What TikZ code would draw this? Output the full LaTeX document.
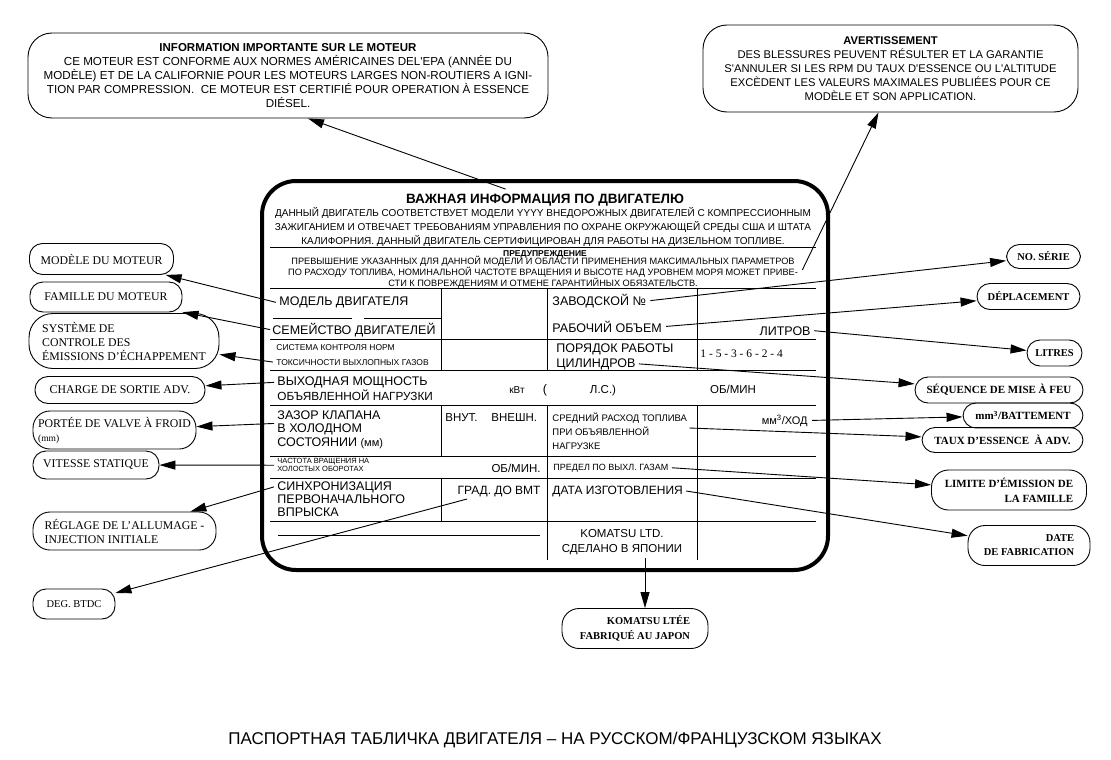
\documentclass[tikz,border=0pt]{standalone}
\usepackage{fontspec}
\setmainfont{Liberation Serif}
\newfontfamily\platefont{Liberation Sans}
\usetikzlibrary{arrows.meta}
\newcommand\fsz[2]{\fontsize{#1}{#2}\selectfont}
\tikzset{tag/.style={draw, rounded corners=13pt, inner sep=0pt, font=\fsz{11.8}{14}},
         rtag/.style={tag, font=\bfseries\fsz{11}{12}},
         note/.style={draw, rounded corners=24pt, inner sep=0pt, align=center, font=\platefont\fsz{11.6}{14}},
         cell/.style={inner sep=0pt, anchor=base west, font=\platefont\fsz{12.5}{13.5}},
         tiny/.style={inner sep=0pt, anchor=base west, font=\platefont\fsz{8.5}{14}},
         ptr/.style={-{Triangle[length=16pt,width=9pt]}},
         rule/.style={line width=1pt}}

\begin{document}
\begin{tikzpicture}[x=1pt,y=-1pt,line width=0.9pt]
  \fill[white] (0,0) rectangle (1111,760);
  \useasboundingbox (0,0) rectangle (1111,760);

  \node[note, minimum width=520pt, minimum height=85pt] (info) at (288,75.5)
    {{\bfseries\fsz{11.5}{14}INFORMATION IMPORTANTE SUR LE MOTEUR}\\
     CE MOTEUR EST CONFORME AUX NORMES AMÉRICAINES DEL'EPA (ANNÉE DU\\
     MODÈLE) ET DE LA CALIFORNIE POUR LES MOTEURS LARGES NON-ROUTIERS A IGNI-\\
     TION PAR COMPRESSION.~ CE MOTEUR EST CERTIFIÉ POUR OPERATION À ESSENCE\\
     DIÉSEL.};
  \node[note, minimum width=375pt, minimum height=87pt, font=\platefont\fsz{11.2}{14}] (warn) at (890.5,68.5)
    {{\bfseries\fsz{11.2}{14}AVERTISSEMENT}\\
     DES BLESSURES PEUVENT RÉSULTER ET LA GARANTIE\\
     S'ANNULER SI LES RPM DU TAUX D'ESSENCE OU L'ALTITUDE\\
     EXCÈDENT LES VALEURS MAXIMALES PUBLIÉES POUR CE\\
     MODÈLE ET SON APPLICATION.};

  % plate
  \draw[line width=4pt, rounded corners=34pt] (262,181) rectangle (828,570);
  \node[font=\platefont\bfseries\fsz{13.5}{14}, inner sep=0pt, anchor=base] (pTitle) at (545,203) {ВАЖНАЯ ИНФОРМАЦИЯ ПО ДВИГАТЕЛЮ};
  \node[font=\platefont\fsz{10}{14}, inner sep=0pt, align=center] (pText) at (543,227)
    {ДАННЫЙ ДВИГАТЕЛЬ СООТВЕТСТВУЕТ МОДЕЛИ YYYY ВНЕДОРОЖНЫХ ДВИГАТЕЛЕЙ С КОМПРЕССИОННЫМ\\
     ЗАЖИГАНИЕМ И ОТВЕЧАЕТ ТРЕБОВАНИЯМ УПРАВЛЕНИЯ ПО ОХРАНЕ ОКРУЖАЮЩЕЙ СРЕДЫ США И ШТАТА\\
     КАЛИФОРНИЯ. ДАННЫЙ ДВИГАТЕЛЬ СЕРТИФИЦИРОВАН ДЛЯ РАБОТЫ НА ДИЗЕЛЬНОМ ТОПЛИВЕ.};
  \node[font=\platefont\bfseries\fsz{8.5}{10}, inner sep=0pt, anchor=base] (pWarn) at (545,256) {ПРЕДУПРЕЖДЕНИЕ};
  \node[font=\platefont\fsz{9.2}{9.7}, inner sep=0pt, align=center] (pWarnText) at (543,272)
    {ПРЕВЫШЕНИЕ УКАЗАННЫХ ДЛЯ ДАННОЙ МОДЕЛИ И ОБЛАСТИ ПРИМЕНЕНИЯ МАКСИМАЛЬНЫХ ПАРАМЕТРОВ\\
     ПО РАСХОДУ ТОПЛИВА, НОМИНАЛЬНОЙ ЧАСТОТЕ ВРАЩЕНИЯ И ВЫСОТЕ НАД УРОВНЕМ МОРЯ МОЖЕТ ПРИВЕ-\\
     СТИ К ПОВРЕЖДЕНИЯМ И ОТМЕНЕ ГАРАНТИЙНЫХ ОБЯЗАТЕЛЬСТВ.};

  \draw[rule] (270,247) -- (816,247);
  \draw[rule] (270,288) -- (816,288);
  \draw[rule] (273,318) -- (352,318) (364,318) -- (441,318);
  \draw[rule] (270,339) -- (816,339);
  \draw[rule] (270,370) -- (816,370);
  \draw[rule] (270,405) -- (816,405);
  \draw[rule] (270,456) -- (816,456);
  \draw[rule] (270,478) -- (816,478);
  \draw[rule] (270,521) -- (816,521);
  \draw[rule] (278,535) -- (540,535);
  \draw[rule] (441,288) -- (441,370) (441,405) -- (441,456) (441,478) -- (441,521);
  \draw[rule] (547,288) -- (547,370) (547,405) -- (547,560);
  \draw[rule] (697,288) -- (697,370) (697,405) -- (697,560);

  \node[cell] (tModel) at (279,305.5) {МОДЕЛЬ ДВИГАТЕЛЯ};
  \node[cell] (tSerial) at (552,305) {ЗАВОДСКОЙ №};
  \node[cell] (tFamily) at (272,334) {СЕМЕЙСТВО ДВИГАТЕЛЕЙ};
  \node[cell] (tDispl) at (552,332) {РАБОЧИЙ ОБЪЕМ};
  \node[cell, anchor=base east] (tLitres) at (811,335) {ЛИТРОВ};
  \node[tiny] (tSystem) at (276,350) {СИСТЕМА КОНТРОЛЯ НОРМ};
  \node[tiny] (tSystemB) at (276,365) {ТОКСИЧНОСТИ ВЫХЛОПНЫХ ГАЗОВ};
  \node[cell] (tOrder) at (556,352) {ПОРЯДОК РАБОТЫ};
  \node[cell] (tCyl) at (556,367) {ЦИЛИНДРОВ};
  \node[inner sep=0pt, anchor=base west, font=\fsz{11.5}{12}] (tSeq) at (700,357) {1 - 5 - 3 - 6 - 2 - 4};
  \node[cell] (tPower) at (277,385.5) {ВЫХОДНАЯ МОЩНОСТЬ};
  \node[cell, font=\platefont\fsz{11.8}{12}] (tPowerB) at (277,400) {ОБЪЯВЛЕННОЙ НАГРУЗКИ};
  \node[cell, anchor=base, font=\platefont\fsz{10}{12}] (tKw) at (517,393) {кВт};
  \node[cell, anchor=base] (tPar) at (545,393) {(};
  \node[cell, anchor=base, font=\platefont\fsz{11.5}{12}] (tHp) at (603,393) {Л.С.)};
  \node[cell, anchor=base, font=\platefont\fsz{11.5}{12}] (tRpm) at (733,393) {ОБ/МИН};
  \node[cell, align=left, anchor=north west] (tValve) at (277,410)
    {ЗАЗОР КЛАПАНА\\ В ХОЛОДНОМ\\ СОСТОЯНИИ {\fsz{11}{12}(мм)}};
  \node[cell, font=\platefont\fsz{11.5}{12}] (tIn) at (445,421) {ВНУТ.};
  \node[cell, font=\platefont\fsz{11.5}{12}] (tOut) at (491,421) {ВНЕШН.};
  \node[tiny, align=left, anchor=north west, font=\platefont\fsz{9.5}{14}] (tFuel) at (552,412)
    {СРЕДНИЙ РАСХОД ТОПЛИВА\\ ПРИ ОБЪЯВЛЕННОЙ\\ НАГРУЗКЕ};
  \node[cell, anchor=base east, font=\platefont\fsz{11}{12}] (tStroke) at (808,424) {мм\textsuperscript{3}/ХОД};
  \node[tiny, align=left, anchor=north west, font=\platefont\fsz{7.5}{8.2}] (tIdle) at (277,458)
    {ЧАСТОТА ВРАЩЕНИЯ НА\\ ХОЛОСТЫХ ОБОРОТАХ};
  \node[cell, anchor=base east, font=\platefont\fsz{11.5}{12}] (tIdleRpm) at (541,472) {ОБ/МИН.};
  \node[tiny, font=\platefont\fsz{9}{12}] (tLimit) at (553,470) {ПРЕДЕЛ ПО ВЫХЛ. ГАЗАМ};
  \node[cell, align=left, anchor=north west, font=\platefont\fsz{12.5}{13}] (tTiming) at (277,481)
    {СИНХРОНИЗАЦИЯ\\ ПЕРВОНАЧАЛЬНОГО\\ ВПРЫСКА};
  \node[cell, anchor=base east, font=\platefont\fsz{12}{12}] (tGrad) at (541,494) {ГРАД. ДО ВМТ};
  \node[cell, font=\platefont\fsz{12}{12}] (tDate) at (552,494) {ДАТА ИЗГОТОВЛЕНИЯ};
  \node[font=\platefont\fsz{11.5}{15}, inner sep=0pt, align=center] (tKom) at (622,542.5)
    {KOMATSU LTD.\\ СДЕЛАНО В ЯПОНИИ};
  \coordinate (kFoot) at (645,558);

  % labels left
  \node[tag, minimum width=144pt, minimum height=31pt] (modele) at (101.5,259) {MODÈLE DU MOTEUR};
  \node[tag, minimum width=152pt, minimum height=30pt] (famille) at (106,297) {FAMILLE DU MOTEUR};
  \node[tag, minimum width=190pt, minimum height=55pt, rounded corners=24pt, align=left] (systeme) at (124,341)
    {SYSTÈME DE\\ CONTROLE DES\\ ÉMISSIONS D’ÉCHAPPEMENT};
  \node[tag, minimum width=170pt, minimum height=27pt] (charge) at (120,390) {CHARGE DE SORTIE ADV.};
  \node[tag, minimum width=163pt, minimum height=38pt, rounded corners=17pt, align=left] (portee) at (114.5,430)
    {PORTÉE DE VALVE À FROID\\ {\fsz{9.5}{12}(mm)}};
  \node[tag, minimum width=126pt, minimum height=28pt] (vitesse) at (96,465) {VITESSE STATIQUE};
  \node[tag, minimum width=183pt, minimum height=38pt, rounded corners=17pt, align=left] (reglage) at (124.5,531)
    {RÉGLAGE DE L’ALLUMAGE -\\ INJECTION INITIALE};
  \node[tag, minimum width=82pt, minimum height=30pt, font=\fsz{10.5}{12}] (btdc) at (74,604) {DEG. BTDC};

  % labels right
  \node[rtag, minimum width=74pt, minimum height=24pt, font=\bfseries\fsz{10.5}{12}] (serie) at (1043.5,256.5) {NO. SÉRIE};
  \node[rtag, minimum width=103pt, minimum height=26pt, font=\bfseries\fsz{10.5}{12}] (deplac) at (1028.5,296.5) {DÉPLACEMENT};
  \node[rtag, minimum width=55pt, minimum height=26pt, font=\bfseries\fsz{10.5}{12}] (litres) at (1054.5,353) {LITRES};
  \node[rtag, minimum width=168pt, minimum height=26pt] (sequence) at (999,390) {SÉQUENCE DE MISE À FEU};
  \node[rtag, minimum width=120pt, minimum height=25pt] (battement) at (1023,415.5) {mm\textsuperscript{3}/BATTEMENT};
  \node[rtag, minimum width=161pt, minimum height=25pt] (taux) at (1002.5,440) {TAUX D’ESSENCE~ À ADV.};
  \node[rtag, minimum width=155pt, minimum height=40pt, rounded corners=17pt, align=right, font=\bfseries\fsz{11}{15}] (limite) at (1009,490)
    {LIMITE D’ÉMISSION DE\\ LA FAMILLE};
  \node[rtag, minimum width=122pt, minimum height=40pt, rounded corners=17pt, align=right, font=\bfseries\fsz{10.5}{14}] (fabric) at (1029,545.5)
    {DATE\\ DE FABRICATION};
  \node[rtag, minimum width=146pt, minimum height=40pt, rounded corners=17pt, align=right, font=\bfseries\fsz{10.5}{15}] (japon) at (635,628.5)
    {KOMATSU LTÉE\\ FABRIQUÉ AU JAPON};

  % connectors
  \draw[ptr] ([xshift=100pt,yshift=4pt]pTitle.north west) -- ([xshift=20pt]info.south);
  \draw[ptr] ([xshift=4pt,yshift=2pt]pWarnText.east) -- ([xshift=-12pt]warn.south);
  \draw[ptr] ([xshift=-3pt]tModel.west) -- (modele);
  \draw[ptr] ([xshift=-2pt]tFamily.west) -- (famille);
  \draw[ptr] ([xshift=-3pt]tSystemB.west) -- (systeme);
  \draw[ptr] ([xshift=-3pt]tPower.west) -- (charge);
  \draw[ptr] ([xshift=-3pt,yshift=6pt]tValve.west) -- (portee);
  \draw[ptr] ([xshift=-3pt]tIdle.west) -- (vitesse);
  \draw[ptr] ([xshift=-3pt,yshift=12pt]tTiming.west) -- (reglage);
  \draw[ptr] ([xshift=10pt,yshift=-5pt]tGrad.base west) -- (btdc);
  \draw[ptr] ([xshift=4pt]tSerial.east) -- (serie);
  \draw[ptr] ([xshift=4pt]tDispl.east) -- (deplac);
  \draw[ptr] ([xshift=3pt]tLitres.east) -- (litres);
  \draw[ptr] ([xshift=3pt]tCyl.east) -- (sequence);
  \draw[ptr] ([xshift=4pt]tStroke.east) -- (battement);
  \draw[ptr] ([xshift=2pt,yshift=-16pt]tFuel.north east) -- (taux);
  \draw[ptr] ([xshift=3pt]tLimit.east) -- (limite);
  \draw[ptr] ([xshift=3pt]tDate.east) -- (fabric);
  \draw[ptr] (kFoot) -- (kFoot |- japon.north);

  \node[font=\platefont\fsz{17}{18}, inner sep=0pt] (caption) at (555,740)
    {ПАСПОРТНАЯ ТАБЛИЧКА ДВИГАТЕЛЯ – НА РУССКОМ/ФРАНЦУЗСКОМ ЯЗЫКАХ};
\end{tikzpicture}
\end{document}
